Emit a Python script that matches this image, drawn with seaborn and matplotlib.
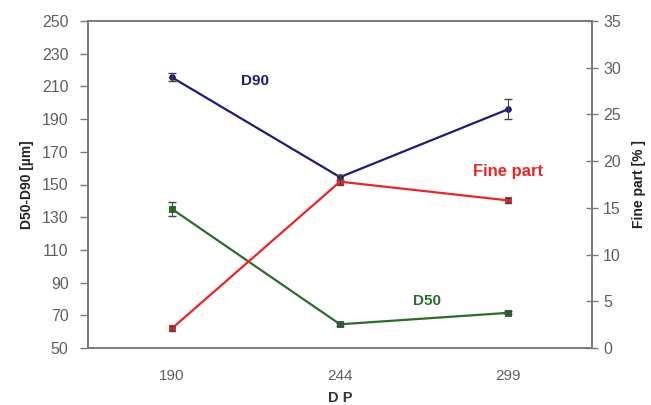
import matplotlib
matplotlib.use("Agg")
import matplotlib.pyplot as plt
import seaborn as sns
import pandas as pd
import numpy as np

# Degree of polymerisation (categories)
dp = ["190", "244", "299"]

# Particle size [µm]
d90 = [215.5, 154.5, 196.0]
d90_err = [2.5, 1.5, 6.0]
d50 = [135.0, 64.5, 71.5]
d50_err = [4.0, 1.0, 1.0]

# Fine part [%]
fine = [2.1, 17.8, 15.8]
fine_err = [0.3, 0.3, 0.3]

c_d90 = "#1c1c7c"
c_d50 = "#2a6e2a"
c_fine = "#ee2424"
c_axis = "#7a7a7a"
c_tick = "#606060"

sns.set_style("white")
plt.rcParams["font.family"] = ["Liberation Sans", "DejaVu Sans"]

fig = plt.figure(figsize=(6.51, 4.05), dpi=100)
ax = fig.add_axes([88 / 651, 1 - 348 / 405, 504 / 651, 327 / 405])
ax2 = ax.twinx()

x = np.arange(len(dp))
df = pd.DataFrame({"x": x, "d90": d90, "d50": d50, "fine": fine})

sns.lineplot(data=df, x="x", y="d90", ax=ax, color=c_d90, lw=1.6,
             marker="o", markersize=4, markeredgecolor=c_d90)
sns.lineplot(data=df, x="x", y="d50", ax=ax, color=c_d50, lw=1.6,
             marker="s", markersize=4, markeredgecolor=c_d50)
sns.lineplot(data=df, x="x", y="fine", ax=ax2, color=c_fine, lw=1.6,
             marker="s", markersize=4, markeredgecolor=c_fine)

ax.errorbar(x, d90, yerr=d90_err, fmt="none", ecolor="#444444", elinewidth=0.8, capsize=3)
ax.errorbar(x, d50, yerr=d50_err, fmt="none", ecolor="#444444", elinewidth=0.8, capsize=3)
ax2.errorbar(x, fine, yerr=fine_err, fmt="none", ecolor="#444444", elinewidth=0.8, capsize=2)

ax.set_xlim(-0.5, 2.5)
ax.set_ylim(50, 250)
ax.set_yticks(np.arange(50, 251, 20))
ax2.set_ylim(0, 35)
ax2.set_yticks(np.arange(0, 36, 5))

ax.set_xticks(x)
ax.set_xticklabels(dp)
ax.set_xticks([0.5, 1.5], minor=True)
ax.tick_params(axis="x", which="major", length=0, pad=15, labelsize=11, labelcolor=c_tick)
ax.tick_params(axis="x", which="minor", direction="in", length=4, color=c_axis, width=1)
ax.tick_params(axis="y", direction="out", length=6, color=c_axis, width=1, pad=8,
               labelsize=11.5, labelcolor=c_tick, left=True)
ax2.tick_params(axis="y", direction="inout", length=8, color=c_axis, width=1, pad=4,
                labelsize=11.5, labelcolor=c_tick, right=True)

for a in (ax, ax2):
    for s in a.spines.values():
        s.set_color(c_axis)
        s.set_linewidth(1.2)
        s.set_visible(True)

ax.set_xlabel("D P", fontsize=10.5, fontweight="bold", color="#333333", labelpad=6)
ax.set_ylabel("D50-D90 [µm]", fontsize=10, fontweight="bold", color="#222222", labelpad=6)
ax2.set_ylabel("Fine part [% ]", fontsize=10, fontweight="bold", color="#222222", labelpad=8)

ax.text(0.41, 213.5, "D90", color=c_d90, fontsize=11, fontweight="bold", ha="left", va="center")
ax2.text(2.0, 18.9, "Fine part", color=c_fine, fontsize=12, fontweight="bold", ha="center", va="center")
ax.text(1.52, 79, "D50", color=c_d50, fontsize=11, fontweight="bold", ha="center", va="center")

fig.savefig("out.png", dpi=100)
